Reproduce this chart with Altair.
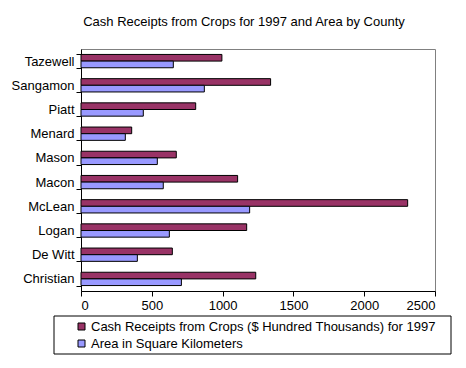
import altair as alt
import pandas as pd

counties = ["Tazewell", "Sangamon", "Piatt", "Menard", "Mason", "Macon",
            "McLean", "Logan", "De Witt", "Christian"]
cash = [995, 1339, 810, 358, 673, 1106, 2307, 1170, 645, 1234]
area = [652, 871, 440, 313, 539, 581, 1191, 624, 398, 709]
series = ["Cash Receipts from Crops ($ Hundred Thousands) for 1997",
          "Area in Square Kilometers"]
colors = ["#993366", "#9999FF"]
x_ticks = [0, 500, 1000, 1500, 2000, 2500]

rows = []
for c, v1, v2 in zip(counties, cash, area):
    rows.append({"County": c, "Series": series[0], "Value": v1})
    rows.append({"County": c, "Series": series[1], "Value": v2})
df = pd.DataFrame(rows)

FONT = "Liberation Sans"

bars = alt.Chart(df).mark_bar(stroke="black", strokeWidth=1, opacity=1).encode(
    x=alt.X("Value:Q",
            scale=alt.Scale(domain=[0, 2500], nice=False),
            axis=alt.Axis(values=x_ticks, format="d", title=None, grid=False,
                          domainColor="black", tickColor="black",
                          tickSize=5, labelPadding=3, labelFontSize=13,
                          labelFont=FONT, labelColor="black")),
    y=alt.Y("County:N", sort=counties,
            scale=alt.Scale(paddingInner=0.45, paddingOuter=0.225),
            axis=alt.Axis(title=None, tickBand="extent", domainColor="black",
                          tickColor="black", tickSize=5, labelPadding=2,
                          labelFontSize=13, labelFont=FONT, labelColor="black")),
    yOffset=alt.YOffset("Series:N", sort=series,
                        scale=alt.Scale(paddingInner=0, paddingOuter=0)),
    color=alt.Color("Series:N", sort=series,
                    scale=alt.Scale(domain=series, range=colors),
                    legend=alt.Legend(title=None, orient="none",
                                      legendX=-6, legendY=271,
                                      direction="vertical",
                                      symbolType="square", symbolSize=49,
                                      symbolStrokeColor="black",
                                      symbolStrokeWidth=1,
                                      symbolOpacity=1,
                                      labelFontSize=13, labelFont=FONT,
                                      labelColor="black", labelLimit=500,
                                      labelOffset=3,
                                      rowPadding=3, padding=0)),
)

box = alt.Chart(pd.DataFrame({"k": [0]})).mark_rect(
    fill=None, stroke="black", strokeWidth=1).encode(
    x=alt.value(-27), x2=alt.value(370),
    y=alt.value(267), y2=alt.value(305))

chart = alt.layer(bars, box).properties(
    width=354, height=242,
    title=alt.TitleParams("Cash Receipts from Crops for 1997 and Area by County",
                          font=FONT, fontSize=13, fontWeight="normal",
                          color="black", anchor="middle", dx=-14, offset=14),
    autosize=alt.AutoSizeParams(type="none"),
    padding={"left": 73, "top": 41, "right": 20, "bottom": 70},
    background="white",
).configure_view(stroke="#808080", strokeWidth=1)

chart.save("out.html", embed_options={"renderer": "svg", "actions": False})
